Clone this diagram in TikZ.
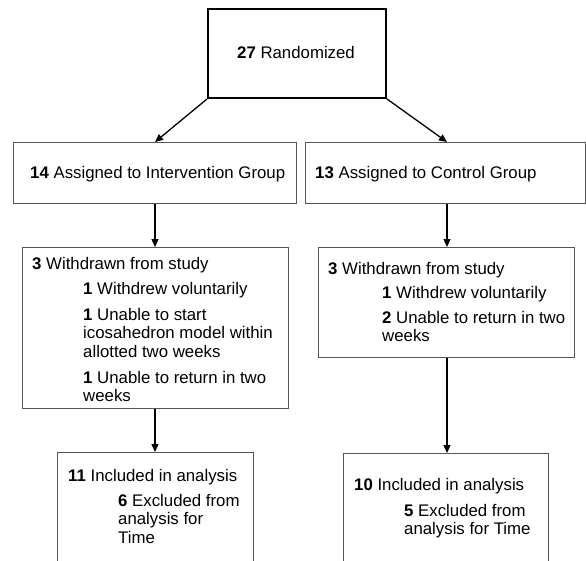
\documentclass[tikz,border=0pt]{standalone}
\usepackage{fontspec}
\setmainfont{Liberation Sans}
\usetikzlibrary{arrows.meta,calc}
\definecolor{boxgray}{HTML}{555555}
\begin{document}
\begin{tikzpicture}[x=1pt,y=-1pt,
  box/.style={draw=boxgray,line width=1pt,inner sep=0pt,anchor=north west},
  topbox/.style={draw=black,line width=2pt,inner sep=0pt,anchor=north west},
  txt/.style={anchor=base west,inner sep=0pt,align=left,font=\fontsize{16.8}{18.5}\selectfont},
  arr/.style={draw=black,line width=1.3pt,-{Triangle[length=8pt,width=7pt]}}]
\useasboundingbox (0,0) rectangle (586,560);
\clip (0,0) rectangle (586,560);
\fill[white] (0,0) rectangle (586,560);
% boxes
\node[topbox,minimum width=178pt,minimum height=89pt] (top) at (207,8) {};
\node[box,minimum width=283pt,minimum height=61pt] (b2l) at (13,142) {};
\node[box,minimum width=280pt,minimum height=61pt] (b2r) at (305,142) {};
\node[box,minimum width=266pt,minimum height=161pt] (b3l) at (22,247) {};
\node[box,minimum width=256pt,minimum height=110pt] (b3r) at (318,247) {};
\node[box,minimum width=196pt,minimum height=115pt] (b4l) at (57,452) {};
\node[box,minimum width=205pt,minimum height=115pt] (b4r) at (343,453) {};
% texts (base anchor of a multi-line node = baseline of its last line)
\node[txt,anchor=base] (t0) at (296,58) {\textbf{27} Randomized};
\node[txt] (t2l) at (30,178) {\textbf{14} Assigned to Intervention Group};
\node[txt] (t2r) at (315,178) {\textbf{13} Assigned to Control Group};
\node[txt] (t3la) at (32,269) {\textbf{3} Withdrawn from study};
\node[txt] (t3lb) at (83,294) {\textbf{1} Withdrew voluntarily};
\node[txt] (t3lc) at (83,357) {\textbf{1} Unable to start\\icosahedron model within\\allotted two weeks};
\node[txt] (t3ld) at (83,401.5) {\textbf{1} Unable to return in two\\weeks};
\node[txt] (t3ra) at (328,274) {\textbf{3} Withdrawn from study};
\node[txt] (t3rb) at (382,298) {\textbf{1} Withdrew voluntarily};
\node[txt] (t3rc) at (382,341.5) {\textbf{2} Unable to return in two\\weeks};
\node[txt] (t4la) at (68,481) {\textbf{11} Included in analysis};
\node[txt] (t4lb) at (118,543) {\textbf{6} Excluded from\\analysis for\\Time};
\node[txt] (t4ra) at (354,490) {\textbf{10} Included in analysis};
\node[txt] (t4rb) at (404,534.5) {\textbf{5} Excluded from\\analysis for Time};
% arrows
\draw[arr] (top.south west) -- ($(b2l.north west)+(142,0)$);
\draw[arr] (top.south east) -- ($(b2r.north west)+(142,0)$);
\draw[arr] ($(b2l.south west)+(142,0)$) -- ($(b3l.north west)+(133,0)$);
\draw[arr] ($(b2r.south west)+(142,0)$) -- ($(b3r.north west)+(129,0)$);
\draw[arr] ($(b3l.south west)+(133,0)$) -- ($(b4l.north west)+(98,0)$);
\draw[arr] ($(b3r.south west)+(129,0)$) -- ($(b4r.north west)+(104,0)$);
\end{tikzpicture}
\end{document}
